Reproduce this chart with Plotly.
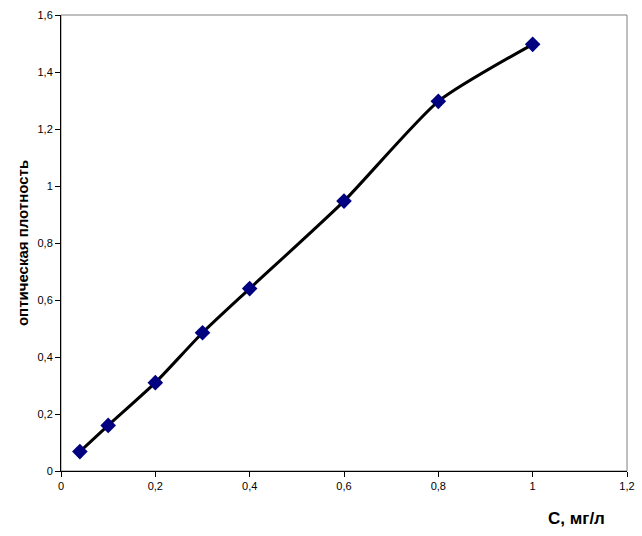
import plotly.graph_objects as go

conc = [0.04, 0.1, 0.2, 0.3, 0.4, 0.6, 0.8, 1.0]
optical_density = [0.068, 0.16, 0.31, 0.485, 0.64, 0.947, 1.297, 1.497]

x_tick_vals = [0, 0.2, 0.4, 0.6, 0.8, 1.0, 1.2]
x_tick_text = ["0", "0,2", "0,4", "0,6", "0,8", "1", "1,2"]
y_tick_vals = [0, 0.2, 0.4, 0.6, 0.8, 1.0, 1.2, 1.4, 1.6]
y_tick_text = ["0", "0,2", "0,4", "0,6", "0,8", "1", "1,2", "1,4", "1,6"]

font_family = "Liberation Sans, Arial, sans-serif"

fig = go.Figure()
fig.add_trace(go.Scatter(
    x=conc, y=optical_density, mode="lines",
    line=dict(color="black", width=3, shape="spline", smoothing=0.6),
    hoverinfo="skip", showlegend=False,
))
fig.add_trace(go.Scatter(
    x=conc, y=optical_density, mode="markers",
    marker=dict(symbol="diamond", size=12, color="#000080",
                line=dict(width=0)),
    showlegend=False,
))

fig.update_layout(
    template="none",
    width=642, height=536,
    margin=dict(l=61, r=15, t=15, b=65, autoexpand=False),
    paper_bgcolor="white", plot_bgcolor="white",
    font=dict(family=font_family, size=11, color="black"),
    shapes=[dict(type="rect", xref="paper", yref="paper", x0=0, y0=0, x1=1, y1=1,
                 line=dict(color="#808080", width=1), layer="below")],
    annotations=[
        dict(text="<b>C, мг/л</b>", xref="paper", yref="paper", x=0.964, y=-0.08,
             xanchor="right", yanchor="top", showarrow=False,
             font=dict(size=17, family=font_family)),
    ],
)
fig.update_xaxes(
    range=[0, 1.2], tickvals=x_tick_vals, ticktext=x_tick_text, automargin=False,
    showgrid=False, zeroline=False, showline=True, linecolor="black", linewidth=1,
    ticks="outside", ticklen=5, tickcolor="black", tickfont=dict(size=11),
)
fig.update_yaxes(
    range=[0, 1.6], tickvals=y_tick_vals, ticktext=y_tick_text, automargin=False,
    showgrid=False, zeroline=False, showline=True, linecolor="black", linewidth=1,
    ticks="outside", ticklen=5, tickcolor="black", tickfont=dict(size=11),
    title=dict(text="<b>оптическая плотность</b>", font=dict(size=15, family=font_family), standoff=5),
)

fig.write_html("out.html", config={"displayModeBar": False},
               post_script="document.body.style.margin='0';document.body.style.overflow='hidden';")
